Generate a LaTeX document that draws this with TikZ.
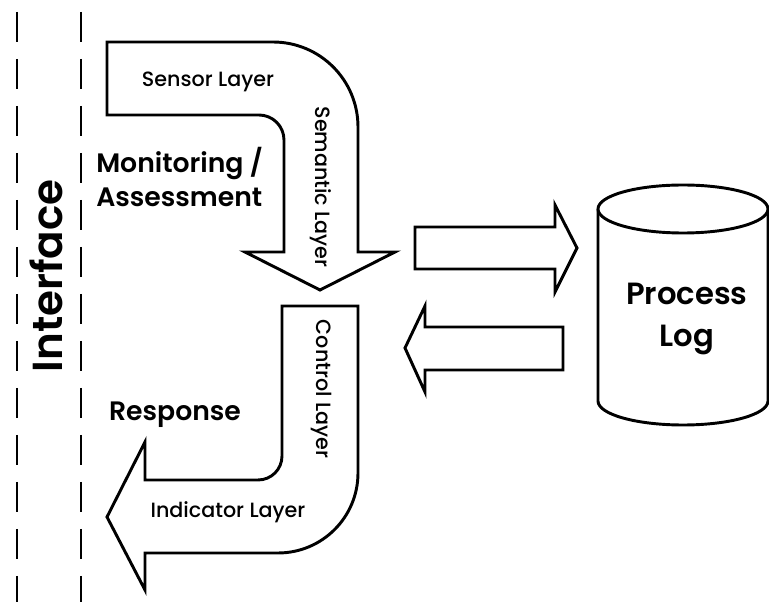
\documentclass[tikz,border=0pt]{standalone}
\usepackage{fontspec}
\setmainfont{Poppins}
\newfontfamily\popmed{Poppins Medium}
\newfontfamily\popsemi{Poppins SemiBold}
\begin{document}
\begin{tikzpicture}[x=0.75pt,y=-0.75pt,
  blockarrow/.style={draw=black, line width=2.2pt, fill=white, line join=miter},
  dashline/.style={draw=black, line width=2.2pt, dash pattern=on 22.5pt off 12.75pt},
  layerlabel/.style={font=\popmed\fontsize{15.5}{17}\selectfont, inner sep=0pt},
  biglabel/.style={font=\popsemi\fontsize{20}{25}\selectfont, inner sep=0pt},
]
\useasboundingbox[fill=white] (0,0) rectangle (769,602);

% interface dashed lines
\coordinate (d1a) at (17,12);
\coordinate (d1b) at (17,602);
\coordinate (d2a) at (81,12);
\coordinate (d2b) at (81,602);
\draw[dashline] (d1a) -- (d1b);
\draw[dashline] (d2a) -- (d2b);
\node[font=\popsemi\fontsize{31.5}{33}\selectfont, rotate=90, inner sep=0pt] (iface) at (46,276) {Interface};

% top bent arrow
\draw[blockarrow] (107,42) -- (273,42) .. controls (320,42) and (358,80) .. (358,127)
  -- (358,252) -- (395,252) -- (320,290) -- (245,252) -- (284,252) -- (284,140)
  .. controls (284,126.2) and (272.8,115) .. (259,115) -- (107,115) -- cycle;

% bottom bent arrow
\draw[blockarrow] (282,306) -- (358,306) -- (358,473) .. controls (358,517.2) and (322.2,553) .. (278,553)
  -- (145,553) -- (145,590) -- (107,517) -- (145,442) -- (145,480) -- (258,480)
  .. controls (271.3,480) and (282,469.3) .. (282,456) -- cycle;

% right-pointing arrow
\draw[blockarrow] (415,227) -- (555,227) -- (555,205) -- (577,248) -- (555,292) -- (555,269) -- (415,269) -- cycle;
% left-pointing arrow
\draw[blockarrow] (563,327) -- (425,327) -- (425,306) -- (405,348) -- (425,392) -- (425,370) -- (563,370) -- cycle;

% cylinder
\draw[blockarrow] (598,209) -- (598,401)
  .. controls (598,414.3) and (636.1,425) .. (683,425)
  .. controls (729.9,425) and (768,414.3) .. (768,401) -- (768,209);
\draw[blockarrow] (598,209) .. controls (598,195.7) and (636.1,185) .. (683,185)
  .. controls (729.9,185) and (768,195.7) .. (768,209)
  .. controls (768,222.3) and (729.9,233) .. (683,233)
  .. controls (636.1,233) and (598,222.3) .. (598,209) -- cycle;
\node[font=\popsemi\fontsize{23}{31}\selectfont, align=center, inner sep=0pt] (plog) at (687,319) {Process\\Log};

% labels
\node[layerlabel] (sensor) at (208,82) {Sensor Layer};
\node[layerlabel, rotate=-90] (semantic) at (321,187) {Semantic Layer};
\node[layerlabel, rotate=-90] (control) at (321,389) {Control Layer};
\node[layerlabel] (indicator) at (228,512) {Indicator Layer};
\node[biglabel, align=left, anchor=west] (monitor) at (96,177) {Monitoring /\\Assessment};
\node[biglabel] (response) at (175,415) {Response};
\end{tikzpicture}
\end{document}
